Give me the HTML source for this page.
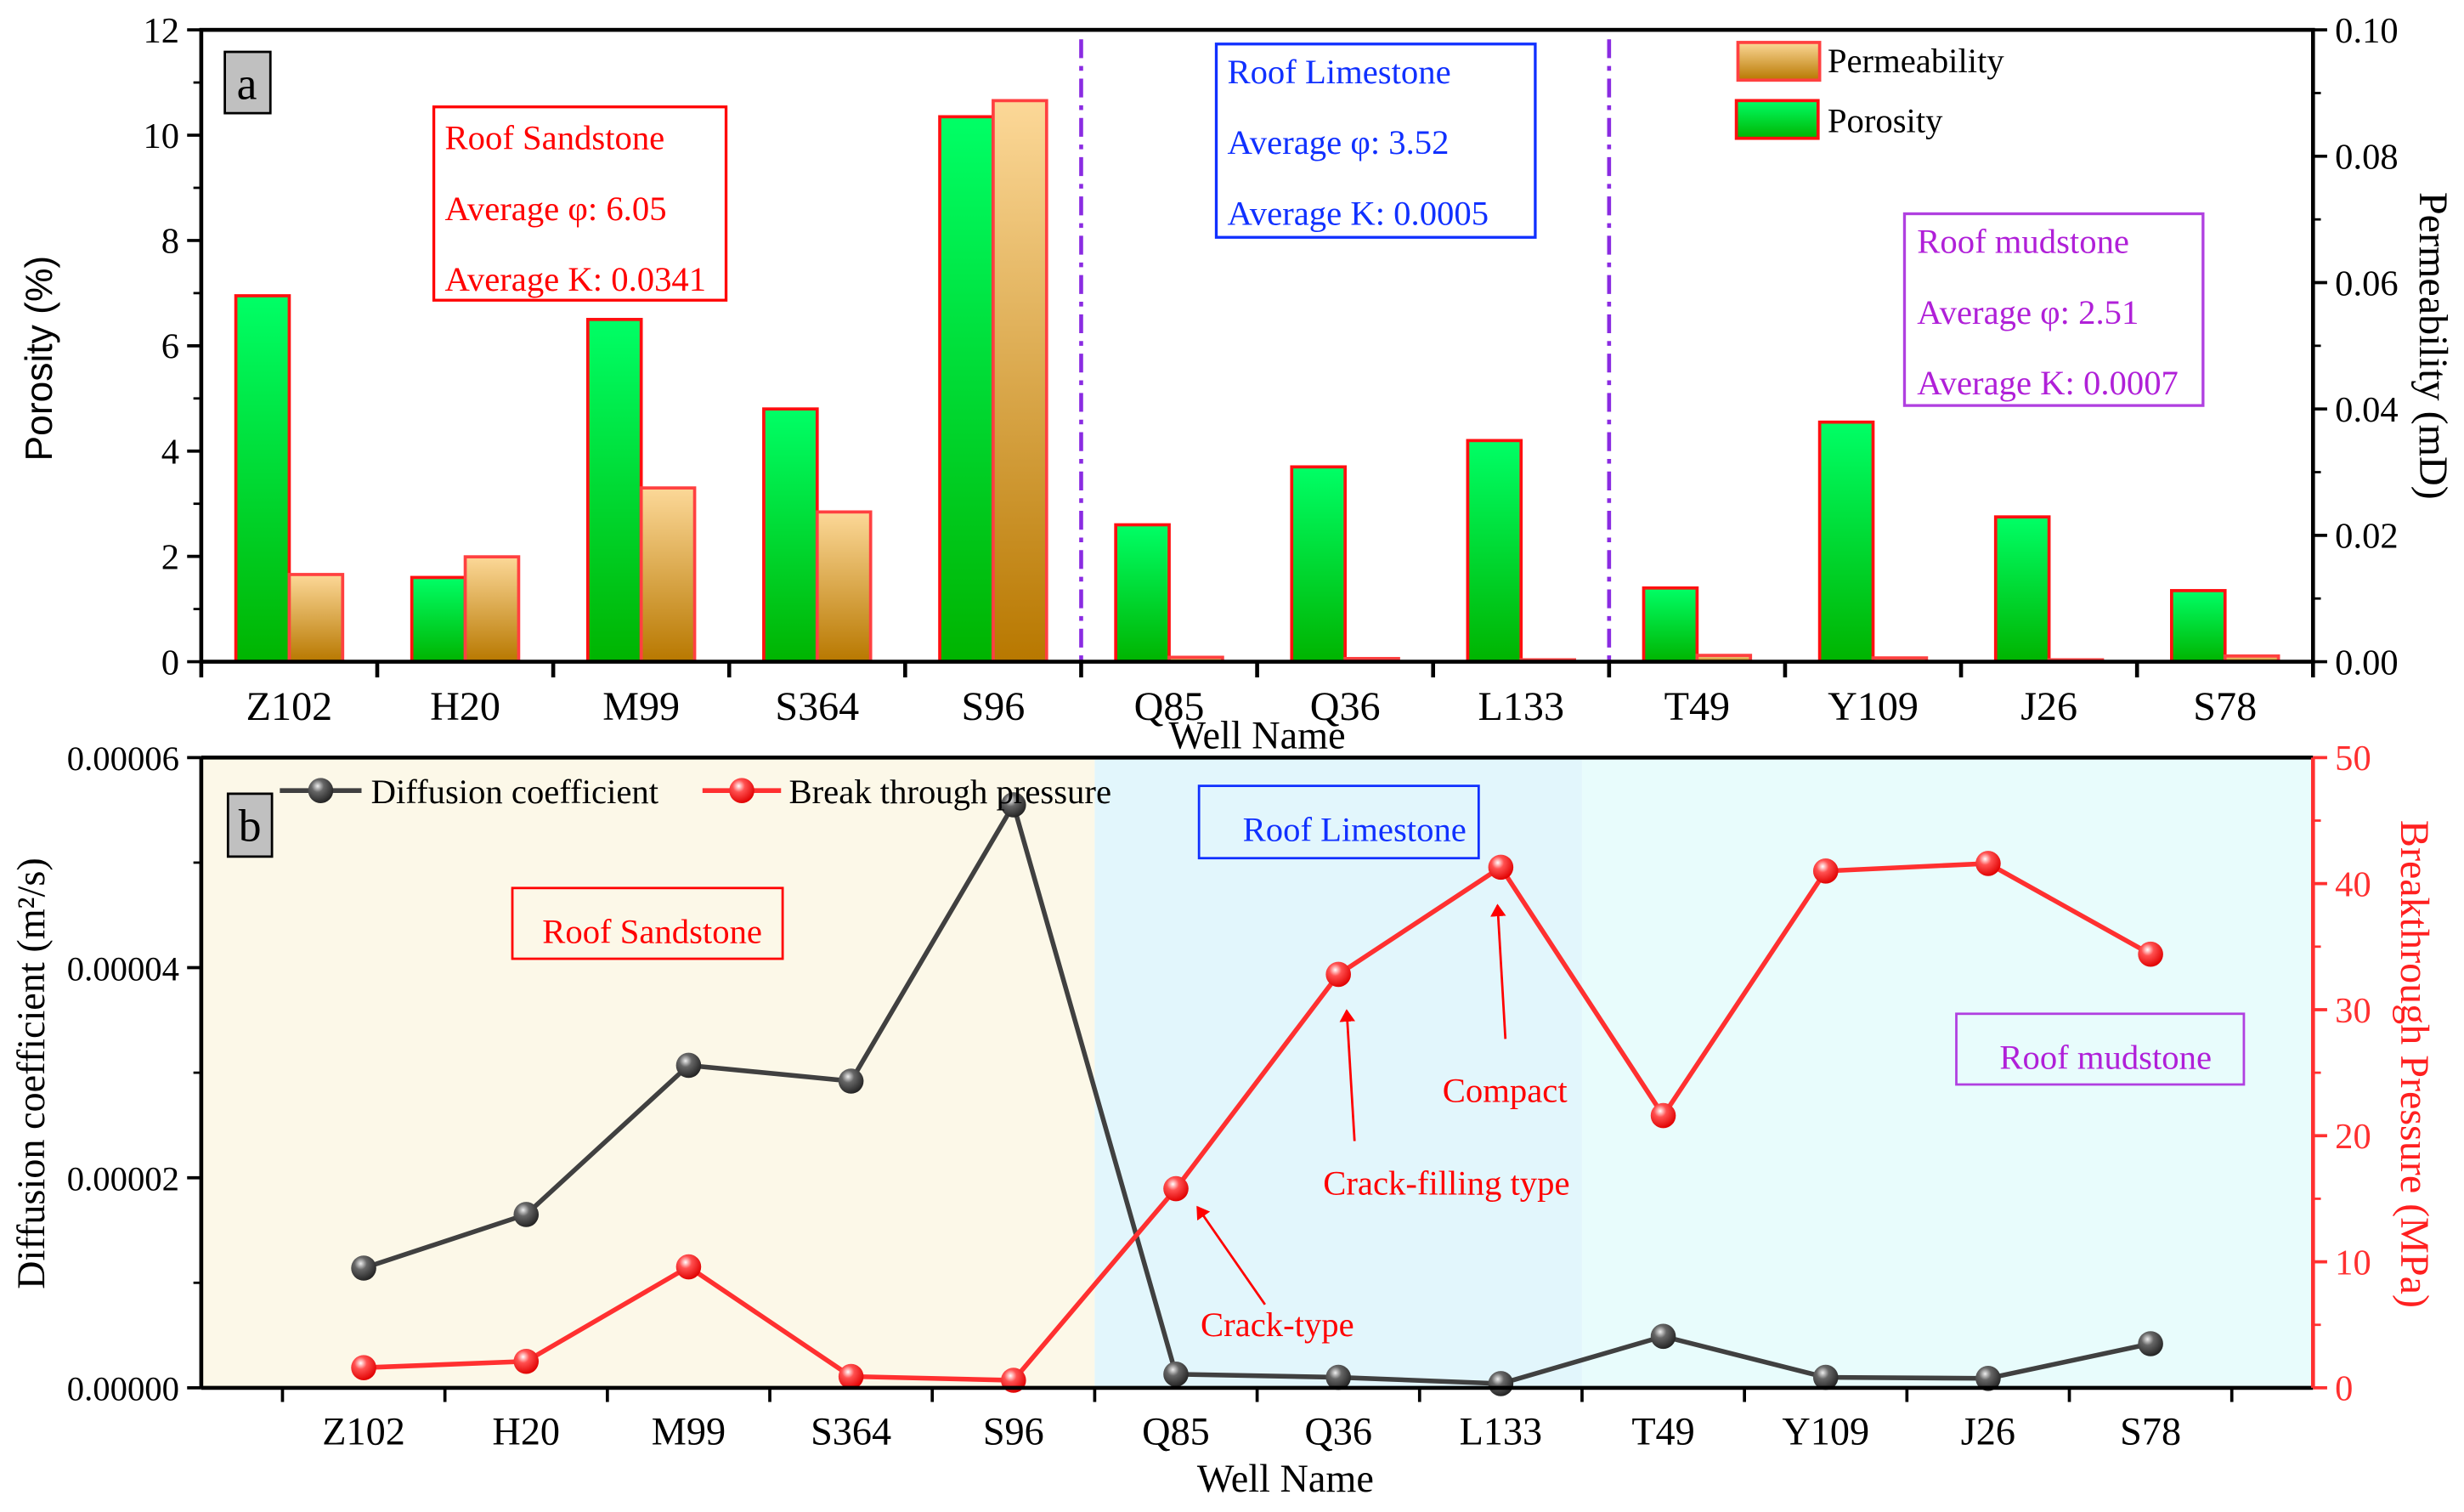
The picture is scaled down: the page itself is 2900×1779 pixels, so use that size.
<!DOCTYPE html>
<html><head><meta charset="utf-8"><style>
html,body{margin:0;padding:0;background:#fff}
svg{display:block}
text{font-family:"Liberation Serif",serif}
</style></head><body>
<svg id="fig" width="2900" height="1779" viewBox="0 0 1568 962" xmlns="http://www.w3.org/2000/svg">
<defs>
<linearGradient id="gG" x1="0" y1="0" x2="0" y2="1"><stop offset="0" stop-color="#00ff66"/><stop offset="1" stop-color="#00b400"/></linearGradient>
<linearGradient id="gP" x1="0" y1="0" x2="0" y2="1"><stop offset="0" stop-color="#fcd898"/><stop offset="1" stop-color="#b87800"/></linearGradient>
<radialGradient id="bk" cx="0.38" cy="0.32" r="0.7"><stop offset="0" stop-color="#eee"/><stop offset="0.35" stop-color="#666"/><stop offset="1" stop-color="#222"/></radialGradient>
<radialGradient id="rd" cx="0.38" cy="0.32" r="0.7"><stop offset="0" stop-color="#fff"/><stop offset="0.35" stop-color="#ff5050"/><stop offset="1" stop-color="#e00000"/></radialGradient>
<marker id="ah" markerWidth="8" markerHeight="10" refX="7" refY="5" orient="auto" markerUnits="userSpaceOnUse"><path d="M0,0 L16,5 L0,10 z" fill="#ff0000" transform="scale(0.5,1)"/></marker>
</defs>
<g id="top"></g>
<g id="bot"></g>
</svg>
<script>
const NS="http://www.w3.org/2000/svg";
const wells=["Z102","H20","M99","S364","S96","Q85","Q36","L133","T49","Y109","J26","S78"];
const porosity=[6.95,1.6,6.5,4.8,10.35,2.6,3.7,4.2,1.4,4.55,2.75,1.35];
const permeability=[0.0138,0.0166,0.0275,0.0237,0.0888,0.0007,0.0005,0.0003,0.001,0.0006,0.0003,0.0009];
const porTicks=[0,2,4,6,8,10,12];
const permTicks=["0.00","0.02","0.04","0.06","0.08","0.10"];
const diffusion=[1.14e-5,1.65e-5,3.07e-5,2.92e-5,5.55e-5,1.3e-6,1.0e-6,0.4e-6,4.9e-6,1.0e-6,0.9e-6,4.2e-6];
const pressure=[1.6,2.1,9.6,0.9,0.6,15.8,32.8,41.3,21.6,41.0,41.6,34.4];
const diffTicks=["0.00000","0.00002","0.00004","0.00006"];
const presTicks=[0,10,20,30,40,50];

function el(parent,tag,attrs,txt){const e=document.createElementNS(NS,tag);for(const k in attrs)e.setAttribute(k,attrs[k]);if(txt!==undefined)e.textContent=txt;parent.appendChild(e);return e;}

const T=document.getElementById('top');
const aL=128,aR=1472,aT=19,aB=421;
const ax=i=>aL+(aR-aL)/12*(i+0.5);
const ayL=v=>aB-v/12*(aB-aT);
const ayR=v=>aB-v/0.1*(aB-aT);
[5,8].forEach(k=>{const x=aL+(aR-aL)/12*k;const l=el(T,'line',{x1:x,y1:aT+6,x2:x,y2:aB,stroke:'#8a2be2','stroke-width':2.5,'stroke-dasharray':'12,5,3,5'});
});
wells.forEach((w,i)=>{
 const c=ax(i);
 const g=el(T,'rect',{x:c-34,y:ayL(porosity[i]),width:34,height:aB-ayL(porosity[i]),fill:'url(#gG)',stroke:'#ff1010','stroke-width':2});
 
 const p=el(T,'rect',{x:c,y:ayR(permeability[i]),width:34,height:aB-ayR(permeability[i]),fill:'url(#gP)',stroke:'#ff4040','stroke-width':2});
 
 const t=el(T,'text',{x:c,y:458,'font-size':26,'text-anchor':'middle'},w);
 
});
el(T,'rect',{x:aL,y:aT,width:aR-aL,height:aB-aT,fill:'none',stroke:'#000','stroke-width':2.5});
for(let k=0;k<=12;k++){const x=aL+(aR-aL)/12*k;el(T,'line',{x1:x,y1:aB,x2:x,y2:aB+10,stroke:'#000','stroke-width':2.5});}
porTicks.forEach(v=>{el(T,'line',{x1:aL-9,y1:ayL(v),x2:aL,y2:ayL(v),stroke:'#000','stroke-width':2});
 if(v<12)el(T,'line',{x1:aL-5,y1:ayL(v+1),x2:aL,y2:ayL(v+1),stroke:'#000','stroke-width':1.5});
 const t=el(T,'text',{x:aL-14,y:ayL(v)+8,'font-size':23,'text-anchor':'end'},String(v));
 });
permTicks.forEach(s=>{const v=parseFloat(s);el(T,'line',{x1:aR,y1:ayR(v),x2:aR+9,y2:ayR(v),stroke:'#000','stroke-width':2});
 if(v<0.1)el(T,'line',{x1:aR,y1:ayR(v+0.01),x2:aR+5,y2:ayR(v+0.01),stroke:'#000','stroke-width':1.5});
 const t=el(T,'text',{x:aR+14,y:ayR(v)+8,'font-size':23},s);
 });
</script>
<script>
(function(){
const T=document.getElementById('top');
T.insertAdjacentHTML('beforeend',`
<text x="33" y="228" font-size="24" text-anchor="middle" transform="rotate(-90 33 228)" style="font-family:'Liberation Sans',sans-serif">Porosity (%)</text>
<text x="1540" y="220" font-size="26" text-anchor="middle" transform="rotate(90 1540 220)">Permeability (mD)</text>
<text x="800" y="476" font-size="25" text-anchor="middle">Well Name</text>
<g><rect x="143" y="33" width="29" height="39" fill="#c0c0c0" stroke="#000" stroke-width="1.5"/><text x="157" y="63" font-size="29" text-anchor="middle">a</text></g>
<g fill="#ff0000" font-size="22"><rect x="276" y="68" width="186" height="123" fill="#fff" stroke="#ff0000" stroke-width="1.8"/>
<text x="283" y="95">Roof Sandstone</text><text x="283" y="140">Average φ: 6.05</text><text x="283" y="185">Average K: 0.0341</text></g>
<g fill="#1030ff" font-size="22"><rect x="774" y="28" width="203" height="123" fill="#fff" stroke="#1030ff" stroke-width="1.8"/>
<text x="781" y="53">Roof Limestone</text><text x="781" y="98">Average φ: 3.52</text><text x="781" y="143">Average K: 0.0005</text></g>
<g fill="#b020d8" font-size="22"><rect x="1212" y="136" width="190" height="122" fill="#fff" stroke="#b040e0" stroke-width="1.8"/>
<text x="1220" y="161">Roof mudstone</text><text x="1220" y="206">Average φ: 2.51</text><text x="1220" y="251">Average K: 0.0007</text></g>
<g font-size="22">
<rect x="1106" y="27" width="52" height="24" fill="url(#gP)" stroke="#ff4040" stroke-width="2"/><text x="1163" y="46">Permeability</text>
<rect x="1105" y="64" width="52" height="24" fill="url(#gG)" stroke="#ff1010" stroke-width="2"/><text x="1163" y="84">Porosity</text></g>
`);
})();
</script>
<script>
const B=document.getElementById('bot');
const bL=128,bR=1472,bT=482,bB=883;
const step=(bR-bL)/13;
const bx=i=>bL+step*(i+1);
const byL=v=>bB-v/6e-5*(bB-bT);
const byR=v=>bB-v/50*(bB-bT);
const regions=[[bL,bL+step*5.5,'#fcf8e8','sandstone-region'],[bL+step*5.5,bL+step*8.5,'#e2f6fc','limestone-region'],[bL+step*8.5,bR,'#e8fcfc','mudstone-region']];
regions.forEach(r=>{const e=el(B,'rect',{x:r[0],y:bT,width:r[1]-r[0],height:bB-bT,fill:r[2]});});
B.insertAdjacentHTML('beforeend',`
<g><rect x="326" y="565" width="172" height="45" fill="none" stroke="#ff0000" stroke-width="1.5"/><text x="415" y="600" font-size="22" fill="#ff0000" text-anchor="middle">Roof Sandstone</text></g>
<g><rect x="763" y="500" width="178" height="46" fill="none" stroke="#1030ff" stroke-width="1.5"/><text x="862" y="535" font-size="22" fill="#1030ff" text-anchor="middle">Roof Limestone</text></g>
<g><rect x="1245" y="645" width="183" height="45" fill="none" stroke="#b040e0" stroke-width="1.5"/><text x="1340" y="680" font-size="22" fill="#b020d8" text-anchor="middle">Roof mudstone</text></g>
`);
function series(vals,yf,color,grad,name){
 const pts=vals.map((v,i)=>bx(i)+','+yf(v)).join(' ');
 const pl=el(B,'polyline',{points:pts,fill:'none',stroke:color,'stroke-width':3});
 
 vals.forEach((v,i)=>{const c=el(B,'circle',{cx:bx(i),cy:yf(v),r:8,fill:grad});
 });
}
series(diffusion,byL,'#404040','url(#bk)','diffusion');
series(pressure,byR,'#ff3030','url(#rd)','pressure');
B.insertAdjacentHTML('beforeend',`
<g fill="#ff0000" font-size="22">
<line x1="805" y1="830" x2="762" y2="768" stroke="#ff0000" stroke-width="1.5" marker-end="url(#ah)"/>
<text x="764" y="850">Crack-type</text>
<line x1="862" y1="726" x2="857" y2="643" stroke="#ff0000" stroke-width="1.5" marker-end="url(#ah)"/>
<text x="842" y="760">Crack-filling type</text>
<line x1="958" y1="661" x2="953" y2="576" stroke="#ff0000" stroke-width="1.5" marker-end="url(#ah)"/>
<text x="918" y="701">Compact</text></g>
<g font-size="22">
<line x1="178" y1="503" x2="230" y2="503" stroke="#404040" stroke-width="3"/><circle cx="204" cy="503" r="8" fill="url(#bk)"/><text x="236" y="511">Diffusion coefficient</text>
<line x1="447" y1="503" x2="497" y2="503" stroke="#ff3030" stroke-width="3"/><circle cx="472" cy="503" r="8" fill="url(#rd)"/><text x="502" y="511">Break through pressure</text></g>
<g><rect x="145" y="505" width="28" height="40" fill="#c0c0c0" stroke="#000" stroke-width="1.5"/><text x="159" y="535" font-size="29" text-anchor="middle">b</text></g>
<text x="28" y="683" font-size="25" text-anchor="middle" transform="rotate(-90 28 683)">Diffusion coefficient (m²/s)</text>
<text x="1528" y="677" font-size="26" fill="#ff2020" text-anchor="middle" transform="rotate(90 1528 677)">Breakthrough Pressure (MPa)</text>
<text x="818" y="949" font-size="25" text-anchor="middle">Well Name</text>
`);
el(B,'line',{x1:bL,y1:bT,x2:bR,y2:bT,stroke:'#000','stroke-width':2.5});
el(B,'line',{x1:bL,y1:bB,x2:bR,y2:bB,stroke:'#000','stroke-width':2.5});
el(B,'line',{x1:bL,y1:bT,x2:bL,y2:bB,stroke:'#000','stroke-width':2.5});
el(B,'line',{x1:bR,y1:bT,x2:bR,y2:bB,stroke:'#ff3030','stroke-width':2.5});
for(let k=0;k<13;k++){const x=bL+step*(k+0.5);el(B,'line',{x1:x,y1:bB,x2:x,y2:bB+9,stroke:'#000','stroke-width':2});}
wells.forEach((w,i)=>{const t=el(B,'text',{x:bx(i),y:919,'font-size':25,'text-anchor':'middle'},w);
 });
diffTicks.forEach(s=>{const v=parseFloat(s);el(B,'line',{x1:bL-9,y1:byL(v),x2:bL,y2:byL(v),stroke:'#000','stroke-width':2});
 if(v<6e-5)el(B,'line',{x1:bL-5,y1:byL(v+1e-5),x2:bL,y2:byL(v+1e-5),stroke:'#000','stroke-width':1.5});
 const t=el(B,'text',{x:bL-14,y:byL(v)+8,'font-size':22,'text-anchor':'end'},s);
 });
presTicks.forEach(v=>{el(B,'line',{x1:bR,y1:byR(v),x2:bR+9,y2:byR(v),stroke:'#ff3030','stroke-width':2});
 if(v<50)el(B,'line',{x1:bR,y1:byR(v+5),x2:bR+5,y2:byR(v+5),stroke:'#ff3030','stroke-width':1.5});
 const t=el(B,'text',{x:bR+14,y:byR(v)+8,'font-size':23,fill:'#ff3030'},String(v));
 });
</script>
</body></html>
